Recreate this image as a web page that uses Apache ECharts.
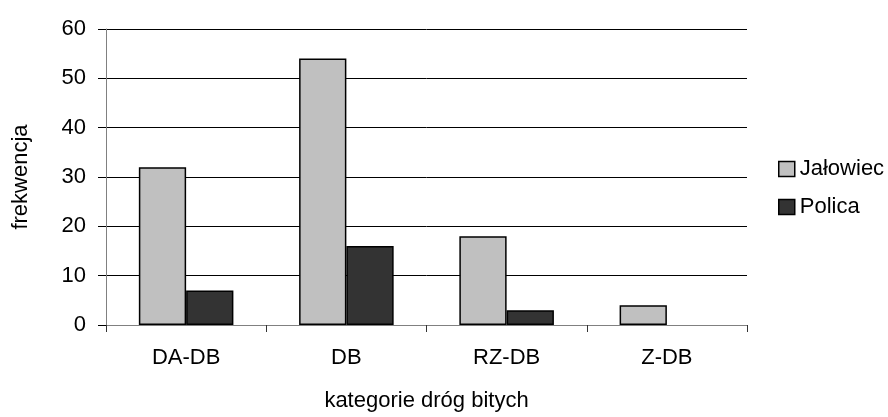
<!DOCTYPE html>
<html>
<head>
<meta charset="utf-8">
<script src="https://cdn.jsdelivr.net/npm/echarts@6/dist/echarts.min.js"></script>
<style>html,body{margin:0;padding:0;background:#fff}#c{width:888px;height:417px}</style>
</head>
<body>
<div id="c"></div>
<script>
const categories = ['DA-DB', 'DB', 'RZ-DB', 'Z-DB'];
const jalowiec = [32, 54, 18, 4];
const polica = [7, 16, 3, 0];
const yTicks = [0, 10, 20, 30, 40, 50, 60];

const FONT = 'Liberation Sans, Arial, sans-serif';
const withHiddenZeros = arr => arr.map(v => v === 0
  ? { value: v, itemStyle: { borderWidth: 0, opacity: 0 } }
  : v);

const chart = echarts.init(document.getElementById('c'));
chart.setOption({
  animation: false,
  backgroundColor: '#fff',
  grid: { left: 106, right: 141, top: 29, bottom: 88, containLabel: false },
  legend: {
    orient: 'vertical', left: 773, top: 153,
    itemWidth: 16, itemHeight: 15, itemGap: 16,
    icon: 'rect',
    textStyle: { fontFamily: FONT, fontSize: 22, lineHeight: 22, color: '#000' },
    data: [
      { name: 'Jałowiec', itemStyle: { color: '#c0c0c0', borderColor: '#000', borderWidth: 1.5 } },
      { name: 'Polica', itemStyle: { color: '#333333', borderColor: '#000', borderWidth: 1.5 } }
    ]
  },
  xAxis: {
    type: 'category', data: categories,
    name: 'kategorie dróg bitych', nameLocation: 'middle', nameGap: 65,
    nameTextStyle: { fontFamily: FONT, fontSize: 22, color: '#000' },
    axisLine: { lineStyle: { color: '#808080', width: 1 } },
    axisTick: { show: true, length: 7, lineStyle: { color: '#333' } },
    axisLabel: { fontFamily: FONT, fontSize: 22, color: '#000', margin: 22 }
  },
  yAxis: {
    type: 'value', min: 0, max: 60, interval: 10,
    name: 'frekwencja', nameLocation: 'middle', nameGap: 74, nameRotate: 90,
    nameTextStyle: { fontFamily: FONT, fontSize: 22, color: '#000' },
    axisLine: { show: true, lineStyle: { color: '#808080', width: 1 } },
    axisTick: { show: true, length: 8, lineStyle: { color: '#000' } },
    axisLabel: { fontFamily: FONT, fontSize: 22, color: '#000', margin: 20,
      formatter: v => yTicks.includes(v) ? String(v) : '' },
    splitLine: { show: true, lineStyle: { color: '#000', width: 1 } }
  },
  series: [
    { name: 'Jałowiec', type: 'bar', data: withHiddenZeros(jalowiec), barGap: '0%', barCategoryGap: '41%',
      itemStyle: { color: '#c0c0c0', borderColor: '#000', borderWidth: 1.5 } },
    { name: 'Polica', type: 'bar', data: withHiddenZeros(polica),
      itemStyle: { color: '#333333', borderColor: '#000', borderWidth: 1.5 } }
  ]
});
</script>
</body>
</html>
